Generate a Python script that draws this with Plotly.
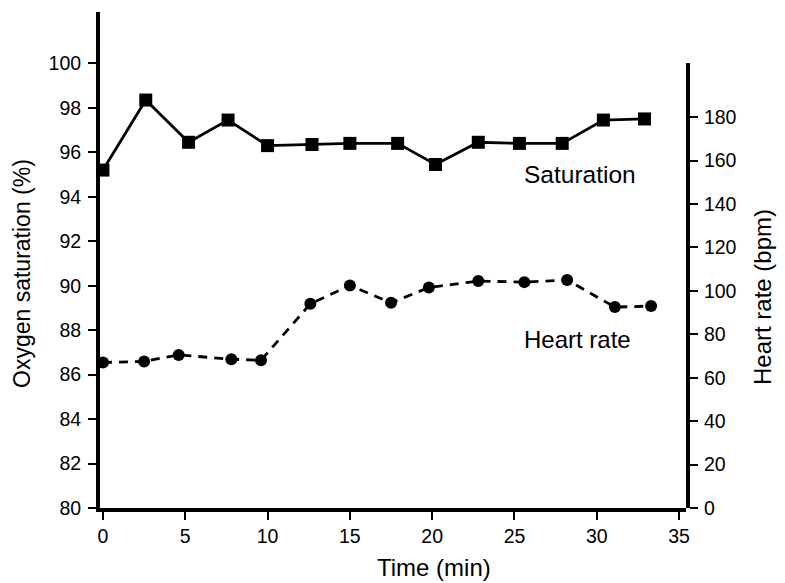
import plotly.graph_objects as go

# Data
sat_time = [0, 2.6, 5.2, 7.6, 10.0, 12.7, 15.0, 17.9, 20.2, 22.8, 25.3, 27.9, 30.4, 32.9]
saturation = [95.2, 98.35, 96.45, 97.45, 96.3, 96.35, 96.4, 96.4, 95.45, 96.45, 96.4, 96.4, 97.45, 97.5]

hr_time = [0, 2.5, 4.6, 7.8, 9.6, 12.6, 15.0, 17.5, 19.8, 22.8, 25.6, 28.2, 31.1, 33.3]
heart_rate = [67, 67.5, 70.5, 68.5, 68, 94, 102.5, 94.5, 101.5, 104.5, 104, 105, 92.5, 93]

x_ticks = [0, 5, 10, 15, 20, 25, 30, 35]
sat_ticks = [80, 82, 84, 86, 88, 90, 92, 94, 96, 98, 100]
hr_ticks = [0, 20, 40, 60, 80, 100, 120, 140, 160, 180]

FONT = "Liberation Sans, Arial, Helvetica, sans-serif"

fig = go.Figure()
fig.add_trace(go.Scatter(
    x=sat_time, y=saturation, mode="lines+markers", xaxis="x", yaxis="y",
    line=dict(color="black", width=2.8),
    marker=dict(symbol="square", size=13, color="black"),
    showlegend=False, cliponaxis=False,
))
fig.add_trace(go.Scatter(
    x=hr_time, y=heart_rate, mode="lines+markers", xaxis="x", yaxis="y2",
    line=dict(color="black", width=2.8, dash="9px,7px"),
    marker=dict(symbol="circle", size=12, color="black"),
    showlegend=False, cliponaxis=False,
))

axis_common = dict(
    showline=True, linecolor="black", linewidth=4,
    ticks="outside", ticklen=8, tickwidth=2, tickcolor="black",
    showgrid=False, zeroline=False,
    tickfont=dict(family=FONT, size=19.5, color="black"),
)

fig.update_layout(
    width=777, height=575,
    margin=dict(l=92, r=99, t=4, b=75, pad=0),
    paper_bgcolor="white", plot_bgcolor="rgba(0,0,0,0)",
    xaxis=dict(range=[-0.18, 35.42], tickvals=x_ticks, anchor="y", **axis_common),
    yaxis=dict(range=[80, 102.31], tickvals=sat_ticks, domain=[0, 1], anchor="x",
               ticklabelstandoff=3, **axis_common),
    yaxis2=dict(range=[0, 204.9], tickvals=hr_ticks, domain=[0, 0.8972], anchor="x",
                side="right", ticklabelstandoff=2, **axis_common),
    annotations=[
        dict(text="Saturation", x=28.98, y=94.98, xref="x", yref="y", showarrow=False,
             xanchor="center", yanchor="middle", font=dict(family=FONT, size=24.5, color="black")),
        dict(text="Heart rate", x=28.8, y=87.56, xref="x", yref="y", showarrow=False,
             xanchor="center", yanchor="middle", font=dict(family=FONT, size=24, color="black")),
        dict(text="Time (min)", x=0.570, y=-0.119, xref="paper", yref="paper", showarrow=False,
             xanchor="center", yanchor="middle", font=dict(family=FONT, size=24, color="black")),
        dict(text="Oxygen saturation (%)", x=-0.1331, y=0.4718, xref="paper", yref="paper",
             showarrow=False, textangle=-90, xanchor="center", yanchor="middle",
             font=dict(family=FONT, size=23, color="black")),
        dict(text="Heart rate (bpm)", x=1.1297, y=0.4254, xref="paper", yref="paper",
             showarrow=False, textangle=-90, xanchor="center", yanchor="middle",
             font=dict(family=FONT, size=24, color="black")),
    ],
)

fig.write_html("out.html")
